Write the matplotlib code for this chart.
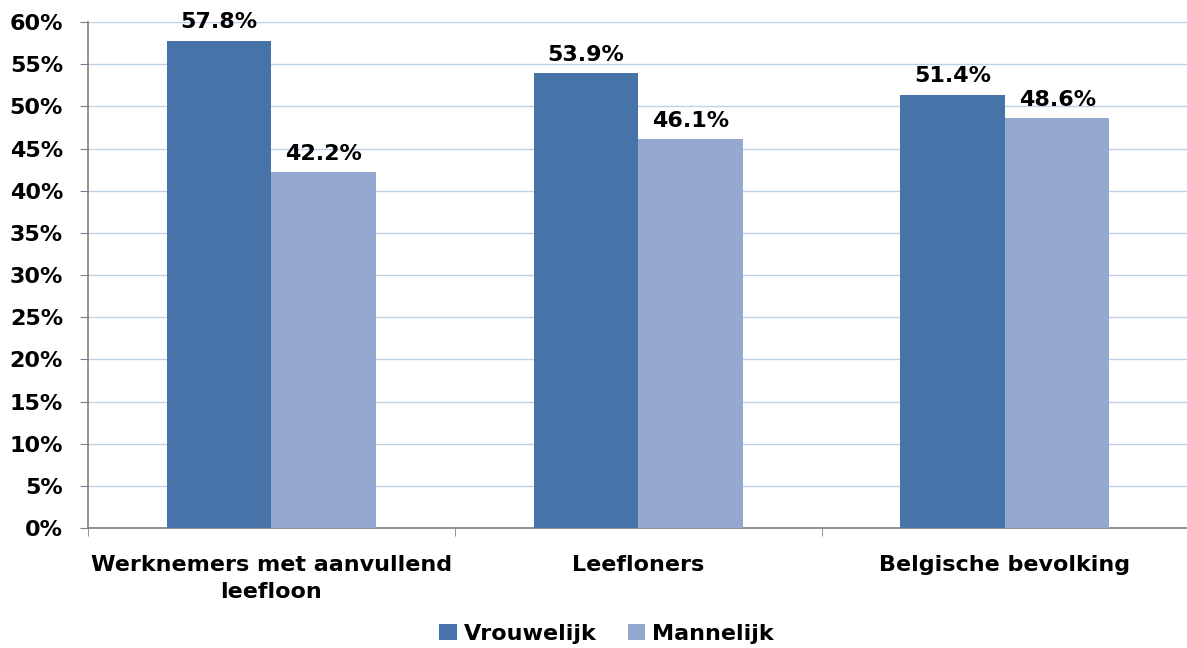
import matplotlib.pyplot as plt
import numpy as np

categories = ["Werknemers met aanvullend\nleefloon", "Leefloners", "Belgische bevolking"]
vrouwelijk = [57.8, 53.9, 51.4]
mannelijk = [42.2, 46.1, 48.6]
series_names = ["Vrouwelijk", "Mannelijk"]
yticks = [0, 5, 10, 15, 20, 25, 30, 35, 40, 45, 50, 55, 60]

plt.rcParams['font.family'] = ['DejaVu Sans']

fig = plt.figure(figsize=(11.87, 6.48), dpi=100)
ax = fig.add_axes([0.0741, 0.185, 0.927, 0.781])

x = np.arange(len(categories))
w = 0.285
c1 = "#4673A8"
c2 = "#95A9D0"
b1 = ax.bar(x - w / 2, vrouwelijk, w, color=c1, label=series_names[0], zorder=3)
b2 = ax.bar(x + w / 2, mannelijk, w, color=c2, label=series_names[1], zorder=3)

for bars, vals in ((b1, vrouwelijk), (b2, mannelijk)):
    for b, v in zip(bars, vals):
        ax.text(b.get_x() + b.get_width() / 2, v + 1.0, f"{v:.1f}%",
                ha="center", va="bottom", fontsize=16, fontweight="bold")

ax.set_xlim(-0.5, len(categories) - 0.5)
ax.set_ylim(0, 60)
ax.set_yticks(yticks)
ax.set_yticklabels([f"{t}%" for t in yticks], fontsize=16, fontweight="bold")
ax.yaxis.grid(True, color="#BFD0E8", linewidth=1, zorder=0)

ax.set_xticks(x)
ax.set_xticklabels(categories, fontsize=16, fontweight="bold", linespacing=1.45)
ax.tick_params(axis="x", length=0, pad=19)
ax.set_xticks(np.arange(len(categories) + 1) - 0.5, minor=True)
ax.tick_params(axis="x", which="minor", length=6, color="#808080")
ax.tick_params(axis="y", length=6, color="#808080", pad=12)

for s in ("top", "right"):
    ax.spines[s].set_visible(False)
for s in ("left", "bottom"):
    ax.spines[s].set_color("#808080")
    ax.spines[s].set_linewidth(1.2)

fig.legend(loc="center", bbox_to_anchor=(0.511, 0.022), ncol=2, frameon=False,
           prop={"size": 16, "weight": "bold"}, handlelength=0.8, handleheight=0.7,
           handletextpad=0.3, columnspacing=1.4, borderpad=0)

fig.savefig("out.png", dpi=100)
